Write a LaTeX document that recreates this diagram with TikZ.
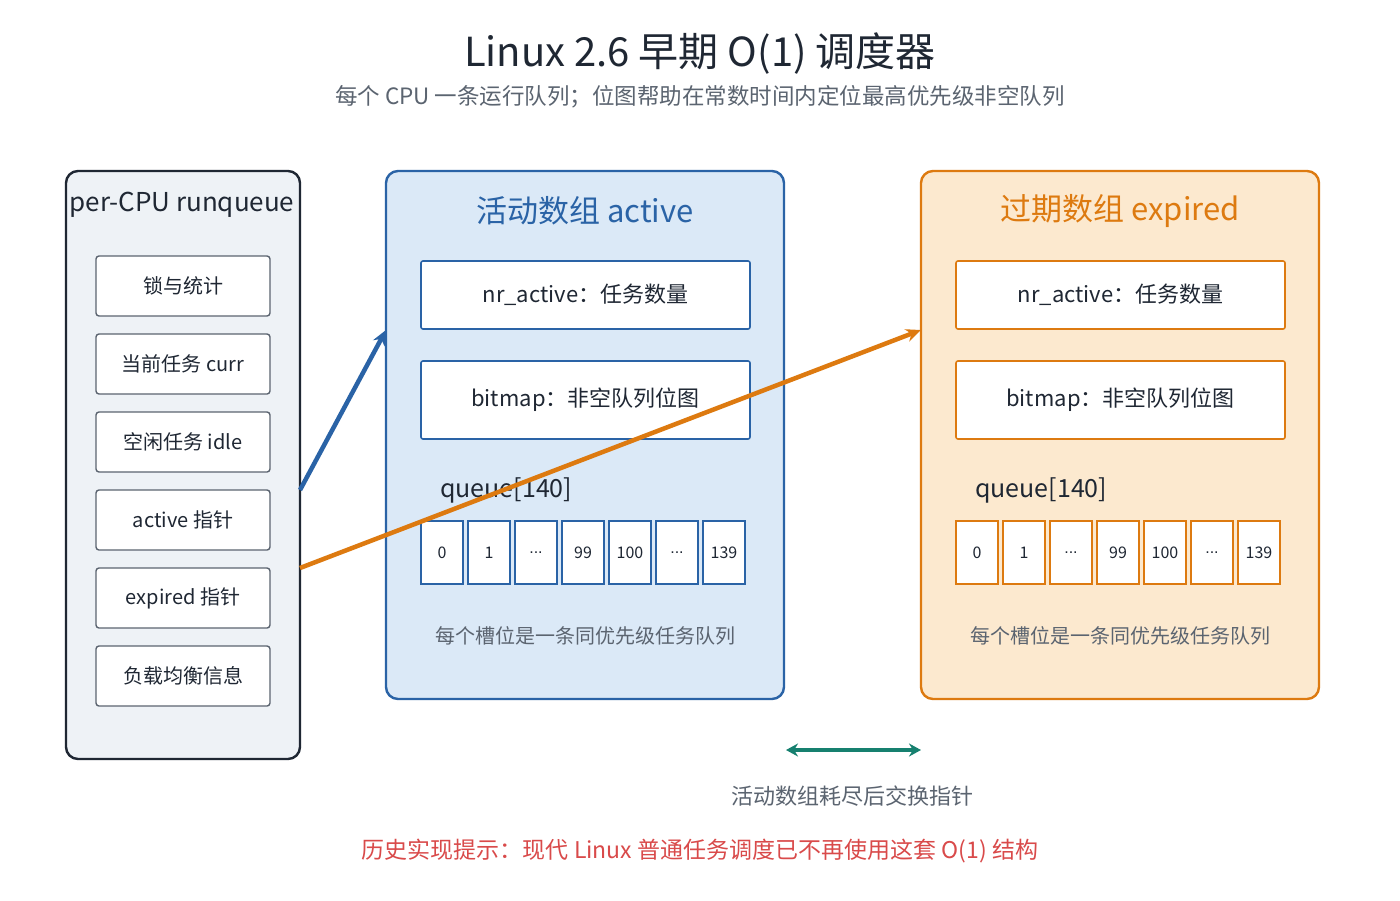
\documentclass[tikz,border=0pt]{standalone}
\usepackage{fontspec}
\setmainfont{Noto Sans CJK SC}
\newfontfamily\latinf{Liberation Sans}
\usetikzlibrary{arrows.meta}
\definecolor{ink}{HTML}{1F2733}
\definecolor{gray1}{HTML}{5B6470}
\definecolor{leftfill}{HTML}{EEF2F6}
\definecolor{blueb}{HTML}{2A63A6}
\definecolor{bluefill}{HTML}{DBE9F7}
\definecolor{orangeb}{HTML}{DD7A10}
\definecolor{orangefill}{HTML}{FCE9CF}
\definecolor{teal1}{HTML}{16806F}
\definecolor{red1}{HTML}{D94A4A}
\newcommand{\fs}[1]{\fontsize{#1}{#1}\selectfont}
\newcommand{\celldots}{{\latinf ...}}
\tikzset{
  panel/.style={rounded corners=12pt, line width=2.4pt},
  item/.style={draw=gray1, fill=white, line width=1.4pt, rounded corners=3pt, minimum width=174pt, minimum height=60pt, font=\fs{20}, text=ink},
  field/.style={fill=white, line width=1.6pt, rounded corners=2pt, minimum width=329pt, font=\fs{22}, text=ink},
  cell/.style={fill=white, line width=1.8pt, minimum width=42pt, minimum height=63pt, font=\fs{16}, text=ink, inner sep=0pt},
  lbl/.style={inner sep=0pt},
}
\begin{document}
\begin{tikzpicture}[x=1pt,y=-1pt]
\useasboundingbox (0,0) rectangle (1400,900);
\fill[white] (0,0) rectangle (1400,900);
% titles
\node[lbl, text=ink, font=\fs{40}] (title) at (700,54) {Linux 2.6 早期 O(1) 调度器};
\node[lbl, text=gray1, font=\fs{22.5}] (sub) at (700,97) {每个 CPU 一条运行队列；位图帮助在常数时间内定位最高优先级非空队列};
% left panel
\draw[panel, draw=ink, fill=leftfill] (66,171) rectangle (300,759);
\node[lbl, text=ink, font=\fs{26}] (rqt) at (182,205) {per-CPU runqueue};
\node[item] (i1) at (183,286) {锁与统计};
\node[item] (i2) at (183,364) {当前任务 curr};
\node[item] (i3) at (183,442) {空闲任务 idle};
\node[item] (i4) at (183,520) {active 指针};
\node[item] (i5) at (183,598) {expired 指针};
\node[item] (i6) at (183,676) {负载均衡信息};
\coordinate (pa) at (300,490);
\coordinate (pe) at (300,568);
% active panel
\draw[panel, draw=blueb, fill=bluefill] (386,171) rectangle (784,699);
\coordinate (actin) at (386,330);
\node[lbl, text=blueb, font=\fs{31}] (at) at (585,211) {活动数组 active};
\node[field, draw=blueb, minimum height=68pt] (an) at (585.5,295) {nr\_active：任务数量};
\node[field, draw=blueb, minimum height=78pt] (ab) at (585.5,400) {bitmap：非空队列位图};
\node[lbl, anchor=west, text=ink, font=\fs{25}] (aq) at (440,490) {queue[140]};
\foreach \t [count=\i from 0] in {0,1,\celldots,99,100,\celldots,139} {
  \node[cell, draw=blueb] (ac\i) at (442+47*\i,552.5) {\t};
}
\node[lbl, text=gray1, font=\fs{20}] (acap) at (585,636) {每个槽位是一条同优先级任务队列};
% expired panel
\draw[panel, draw=orangeb, fill=orangefill] (921,171) rectangle (1319,699);
\coordinate (expin) at (921,330);
\node[lbl, text=orangeb, font=\fs{31}] (et) at (1120,211) {过期数组 expired};
\node[field, draw=orangeb, minimum height=68pt] (en) at (1120.5,295) {nr\_active：任务数量};
\node[field, draw=orangeb, minimum height=78pt] (eb) at (1120.5,400) {bitmap：非空队列位图};
\node[lbl, anchor=west, text=ink, font=\fs{25}] (eq) at (975,490) {queue[140]};
\foreach \t [count=\i from 0] in {0,1,\celldots,99,100,\celldots,139} {
  \node[cell, draw=orangeb] (ec\i) at (977+47*\i,552.5) {\t};
}
\node[lbl, text=gray1, font=\fs{20}] (ecap) at (1120,636) {每个槽位是一条同优先级任务队列};
% arrows
\draw[blueb, line width=4.5pt, -{Stealth[length=15pt,width=13pt]}] (pa) -- (actin);
\draw[orangeb, line width=4.5pt, -{Stealth[length=15pt,width=13pt]}] (pe) -- (expin);
\coordinate (sw1) at (786,750);
\coordinate (sw2) at (921,750);
\draw[teal1, line width=3.5pt, {Stealth[length=12pt,width=13pt]}-{Stealth[length=12pt,width=13pt]}] (sw1) -- (sw2);
\node[lbl, text=gray1, font=\fs{22}] (swl) at (852,796) {活动数组耗尽后交换指针};
\node[lbl, text=red1, font=\fs{23}] (note) at (700,851) {历史实现提示：现代 Linux 普通任务调度已不再使用这套 O(1) 结构};
\end{tikzpicture}
\end{document}
